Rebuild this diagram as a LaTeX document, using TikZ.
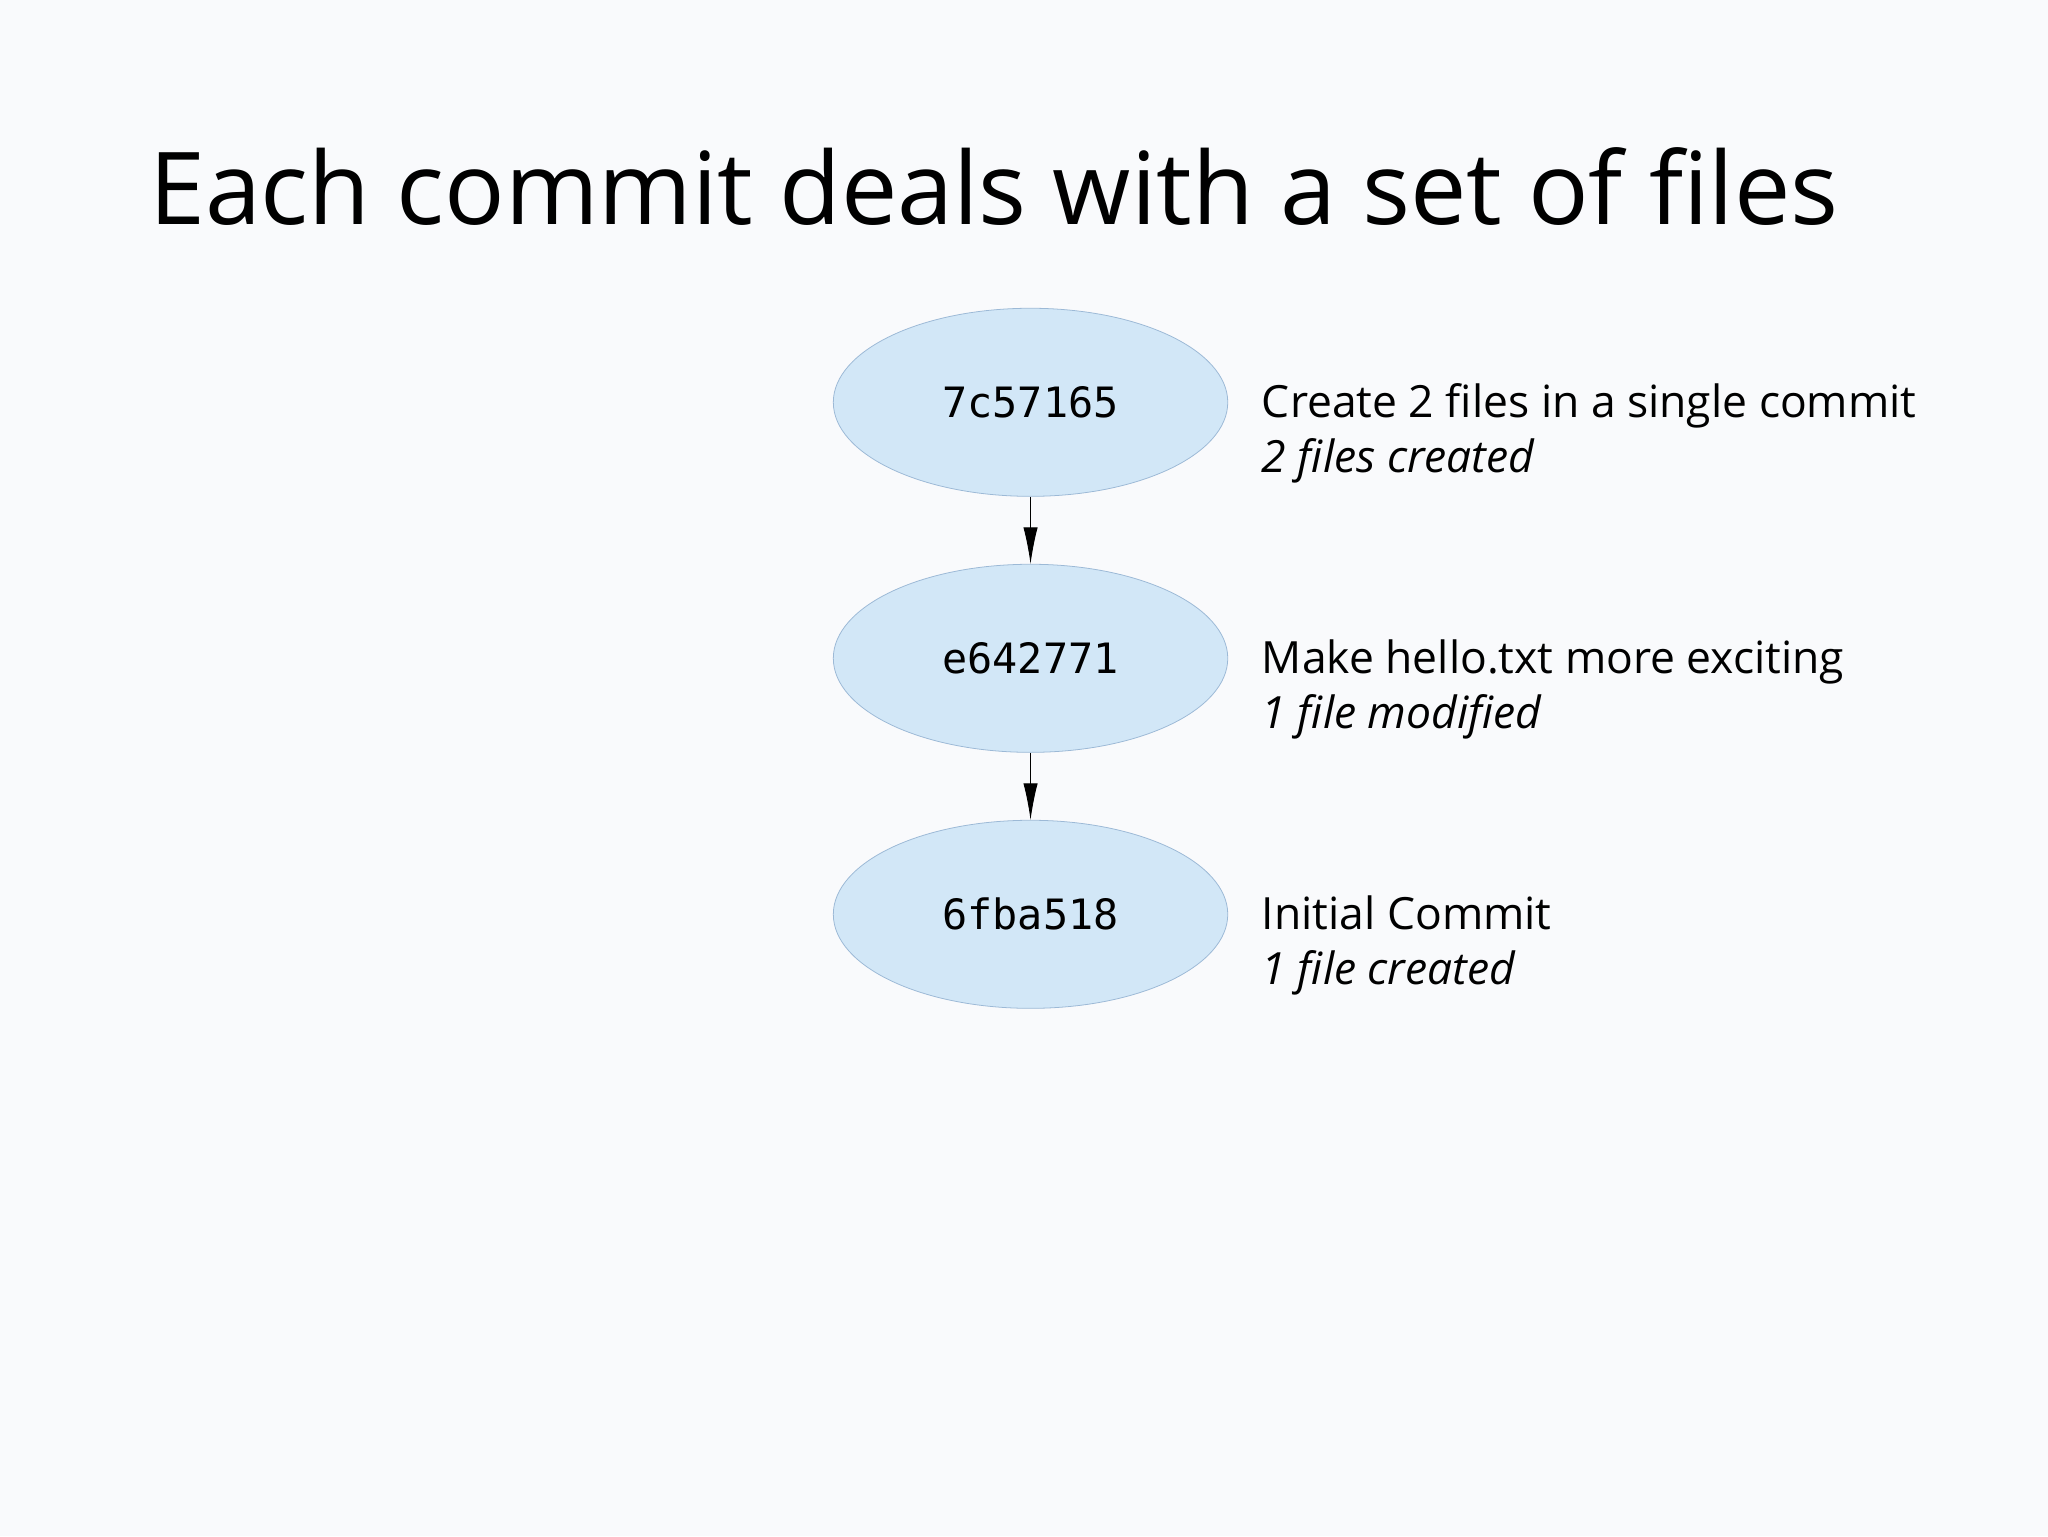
\documentclass[tikz,border=0pt]{standalone}
\usepackage{fontspec}
\setmainfont{Open Sans}
\newfontfamily\hashfont{DejaVu Sans Mono}
\usetikzlibrary{shapes.geometric,arrows.meta}
\definecolor{bg}{HTML}{F9FAFC}
\definecolor{nodefill}{HTML}{D2E7F7}
\definecolor{nodeline}{HTML}{9CB9D6}
\tikzset{
 commit/.style={ellipse,draw=nodeline,fill=nodefill,line width=0.6pt,minimum width=302pt,minimum height=144pt,inner sep=0pt,font=\hashfont\fontsize{32}{36}\selectfont},
 desc/.style={anchor=west,align=left,font=\fontsize{34}{42}\selectfont,inner sep=0pt},
 link/.style={-{Latex[length=28pt,width=11pt]},line width=0.7pt}
}
\begin{document}
\begin{tikzpicture}[x=1pt,y=-1pt]
\fill[bg] (0,0) rectangle (1568,1176);
\useasboundingbox (0,0) rectangle (1568,1176);
\node[anchor=base west,inner sep=0pt,font=\fontsize{77}{90}\selectfont] (title) at (114,172) {Each commit deals with a set of files};
\node[commit] (c1) at (789,308) {7c57165};
\node[commit] (c2) at (789,504) {e642771};
\node[commit] (c3) at (789,700) {6fba518};
\draw[link] (c1) -- (c2);
\draw[link] (c2) -- (c3);
\node[desc] (d1) at (966,332) {Create 2 files in a single commit\\\textit{2 files created}};
\node[desc] (d2) at (966,528) {Make hello.txt more exciting\\\textit{1 file modified}};
\node[desc] (d3) at (966,724) {Initial Commit\\\textit{1 file created}};
\end{tikzpicture}
\end{document}
